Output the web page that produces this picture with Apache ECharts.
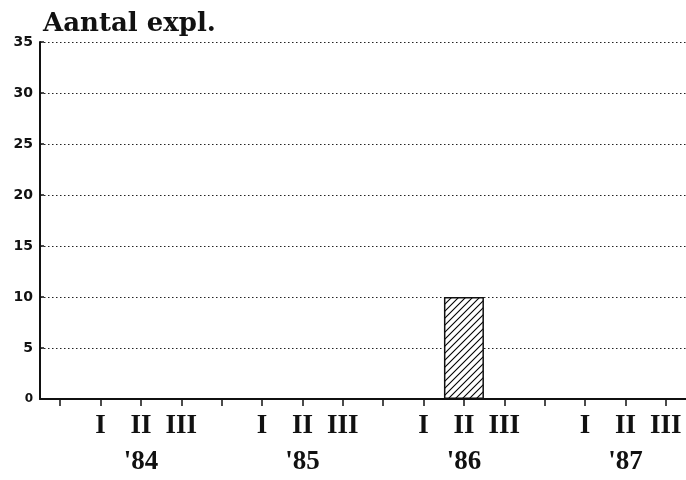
<!DOCTYPE html>
<html><head><meta charset="utf-8">
<script src="https://cdn.jsdelivr.net/npm/echarts@6/dist/echarts.min.js"></script>
<style>html,body{margin:0;padding:0;background:#fff}#c{width:686px;height:480px}</style>
</head><body><div id="c"></div>
<script>
// Categories: one blank slot before each year's three periods
var quarters = ['', 'I', 'II', 'III', '', 'I', 'II', 'III', '', 'I', 'II', 'III', '', 'I', 'II', 'III'];
var years = ['', '', "'84", '', '', '', "'85", '', '', '', "'86", '', '', '', "'87", ''];
var counts = [0, 0, 0, 0, 0, 0, 0, 0, 0, 0, 10, 0, 0, 0, 0, 0];
var yTicks = { min: 0, max: 35, interval: 5 };
var titleText = 'Aantal expl.';

function hatch() {
  var c = document.createElement('canvas');
  c.width = 7; c.height = 7;
  var g = c.getContext('2d');
  g.fillStyle = '#fff'; g.fillRect(0, 0, 7, 7);
  g.strokeStyle = '#000'; g.lineWidth = 1.1;
  g.beginPath();
  g.moveTo(-1, 8); g.lineTo(8, -1);
  g.moveTo(-1, 1); g.lineTo(1, -1);
  g.moveTo(6, 8); g.lineTo(8, 6);
  g.stroke();
  return c;
}

var chart = echarts.init(document.getElementById('c'), null, { renderer: 'canvas' });
chart.setOption({
  backgroundColor: '#fff',
  animation: false,
  title: {
    text: titleText, left: 38, top: 6,
    textStyle: { fontFamily: 'DejaVu Serif', fontWeight: 'bold', fontSize: 26, color: '#111' }
  },
  grid: { left: 40, width: 650, top: 42, height: 361.5, containLabel: false },
  xAxis: {
    type: 'category', data: quarters, boundaryGap: true,
    axisLine: { show: true, lineStyle: { color: '#111', width: 2 } },
    axisTick: { show: true, alignWithLabel: true, length: 7, lineStyle: { color: '#111', width: 1.5 } },
    axisLabel: {
      interval: 0, margin: 9, color: '#111',
      fontFamily: 'Liberation Serif', fontWeight: 'bold', fontSize: 27, lineHeight: 36,
      formatter: function (v, i) { return years[i] ? v + '\n' + years[i] : v; }
    },
    splitLine: { show: false }
  },
  yAxis: {
    type: 'value', min: yTicks.min, max: yTicks.max, interval: yTicks.interval,
    axisLine: { show: true, lineStyle: { color: '#111', width: 2 } },
    axisTick: { show: true, inside: true, length: 4, lineStyle: { color: '#111', width: 1.5 } },
    axisLabel: {
      margin: 7, color: '#111', fontFamily: 'DejaVu Sans', fontWeight: 'bold', fontSize: 14,
      formatter: function (v) { return v === 0 ? '{s|0}' : String(v); },
      rich: { s: { fontSize: 12, fontFamily: 'DejaVu Sans', fontWeight: 'bold', color: '#111' } }
    },
    splitLine: { show: true, lineStyle: { color: '#222', type: [1.5, 2.5], width: 1.2 } }
  },
  series: [{
    type: 'bar', data: counts, barWidth: 40,
    itemStyle: { color: { image: hatch(), repeat: 'repeat' }, borderColor: '#111', borderWidth: 1.5 }
  }]
});
</script></body></html>
